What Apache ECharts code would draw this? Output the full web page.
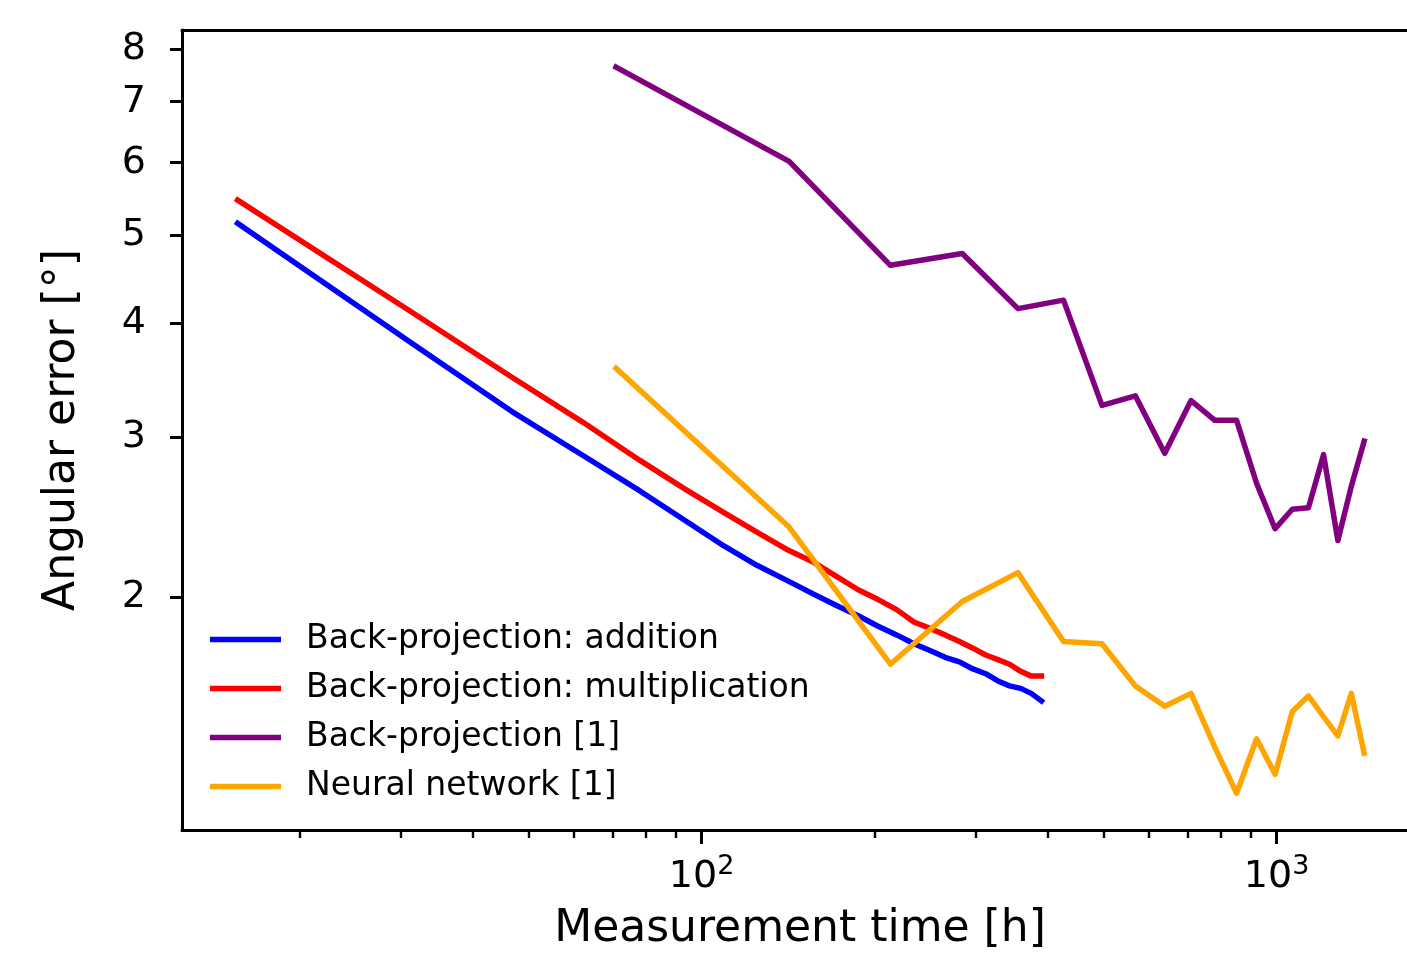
<!DOCTYPE html>
<html>
<head>
<meta charset="utf-8">
<script src="https://cdn.jsdelivr.net/npm/echarts@6.0.0/dist/echarts.min.js"></script>
<style>
  html, body { margin: 0; padding: 0; background: #fff; }
  #chart { width: 1407px; height: 957px; }
</style>
</head>
<body>
<div id="chart"></div>
<script>
// measurement times [h]
var timesBP = [15.6, 31.2, 46.8, 62.4, 78.0, 93.6, 109.2, 124.8, 140.4, 156.0, 171.6, 187.2, 202.8,
  218.4, 234.0, 249.6, 265.2, 280.8, 296.4, 312.0, 327.6, 343.2, 358.8, 374.4, 390.0];
var timesRef = [71, 142, 213, 284, 355, 426, 497, 568, 639, 710, 781, 852, 923, 994, 1065,
  1136, 1207, 1278, 1349, 1420];

// angular error [deg]
var errAddition = [5.15, 3.81, 3.20, 2.86, 2.62, 2.43, 2.28, 2.17, 2.09, 2.02, 1.96, 1.91, 1.86,
  1.82, 1.78, 1.75, 1.72, 1.70, 1.67, 1.65, 1.62, 1.60, 1.59, 1.57, 1.54];
var errMultiplication = [5.46, 4.12, 3.49, 3.11, 2.83, 2.63, 2.48, 2.36, 2.26, 2.19, 2.11, 2.04, 1.99,
  1.94, 1.88, 1.85, 1.82, 1.79, 1.76, 1.73, 1.71, 1.69, 1.66, 1.64, 1.64];
var errBPRef = [7.64, 6.02, 4.63, 4.77, 4.15, 4.24, 3.25, 3.33, 2.88, 3.29, 3.13, 3.13, 2.67, 2.38,
  2.50, 2.51, 2.87, 2.31, 2.65, 2.97];
var errNN = [3.57, 2.39, 1.69, 1.98, 2.13, 1.79, 1.78, 1.60, 1.52, 1.57, 1.37, 1.22, 1.40, 1.28,
  1.50, 1.56, 1.48, 1.41, 1.57, 1.35];

// ticks
var xMajorTicks = [100, 1000];
var xMinorTicks = [20, 30, 40, 50, 60, 70, 80, 90, 200, 300, 400, 500, 600, 700, 800, 900];
var yTicks = [2, 3, 4, 5, 6, 7, 8];

var font = "DejaVu Sans";
var lg = function (v) { return Math.log10(v); };

// axes run in log10 space (matplotlib log-log look)
var xMin = 1.0964, xMax = 3.2268;
var yMin = 0.0460, yMax = 0.9238;

function toLog(xs, ys) {
  return xs.map(function (x, i) { return [lg(x), lg(ys[i])]; });
}

function line(name, xs, ys, color) {
  return {
    name: name,
    type: "line",
    xAxisIndex: 0,
    yAxisIndex: 0,
    data: toLog(xs, ys),
    symbol: "none",
    showSymbol: false,
    silent: true,
    lineStyle: { color: color, width: 5.5, cap: "square", join: "round" },
    itemStyle: { color: color },
    emphasis: { disabled: true }
  };
}

var myChart = echarts.init(document.getElementById("chart"));
var option = {
  animation: false,
  backgroundColor: "#fff",
  grid: { left: 182, right: 0, top: 30, bottom: 125 },
  legend: {
    orient: "vertical",
    left: 210,
    top: 615,
    padding: 0,
    itemGap: 0,
    itemWidth: 71,
    itemHeight: 5.5,
    icon: "rect",
    selectedMode: false,
    textStyle: { fontFamily: font, fontSize: 33, color: "#000", lineHeight: 49, padding: [0, 0, 0, 20] },
    data: ["Back-projection: addition", "Back-projection: multiplication", "Back-projection [1]", "Neural network [1]"]
  },
  xAxis: [
    {
      type: "value",
      position: "bottom",
      min: xMin,
      max: xMax,
      name: "Measurement time [h]",
      nameLocation: "middle",
      nameGap: 78,
      nameTextStyle: { fontFamily: font, fontSize: 44, color: "#000", padding: [0, 0, 0, 11] },
      axisLine: { show: true, onZero: false, lineStyle: { color: "#000", width: 3 } },
      axisTick: { show: true, customValues: xMajorTicks.map(lg), length: 14, lineStyle: { color: "#000", width: 3 } },
      axisLabel: {
        customValues: xMajorTicks.map(lg),
        margin: 23,
        fontFamily: font,
        color: "#000",
        formatter: function (v) { return "{b|10}{s|" + Math.round(v) + "}"; },
        rich: {
          b: { fontFamily: font, fontSize: 38, lineHeight: 48, color: "#000" },
          s: { fontFamily: font, fontSize: 27, lineHeight: 27, verticalAlign: "top", color: "#000" }
        }
      },
      splitLine: { show: false }
    },
    {
      // minor ticks
      type: "value",
      position: "bottom",
      min: xMin,
      max: xMax,
      axisLine: { show: false, onZero: false },
      axisTick: { show: true, customValues: xMinorTicks.map(lg), length: 8, lineStyle: { color: "#000", width: 2.4 } },
      axisLabel: { show: false },
      splitLine: { show: false }
    },
    {
      // top spine
      type: "value",
      position: "top",
      min: xMin,
      max: xMax,
      axisLine: { show: true, onZero: false, lineStyle: { color: "#000", width: 3 } },
      axisTick: { show: false },
      axisLabel: { show: false },
      splitLine: { show: false }
    }
  ],
  yAxis: [
    {
      type: "value",
      position: "left",
      min: yMin,
      max: yMax,
      name: "Angular error [\u00b0]",
      nameLocation: "middle",
      nameGap: 97,
      nameTextStyle: { fontFamily: font, fontSize: 44, color: "#000" },
      axisLine: { show: true, onZero: false, lineStyle: { color: "#000", width: 3 } },
      axisTick: { show: true, customValues: yTicks.map(lg), length: 12, lineStyle: { color: "#000", width: 3 } },
      axisLabel: {
        customValues: yTicks.map(lg),
        margin: 36,
        padding: [7, 0, 0, 0],
        fontFamily: font,
        fontSize: 38,
        color: "#000",
        formatter: function (v) { return String(Math.round(Math.pow(10, v))); }
      },
      splitLine: { show: false }
    }
  ],
  series: [
    line("Back-projection: addition", timesBP, errAddition, "#0000ff"),
    line("Back-projection: multiplication", timesBP, errMultiplication, "#ff0000"),
    line("Back-projection [1]", timesRef, errBPRef, "#800080"),
    line("Neural network [1]", timesRef, errNN, "#ffa500")
  ]
};
myChart.setOption(option);
</script>
</body>
</html>
